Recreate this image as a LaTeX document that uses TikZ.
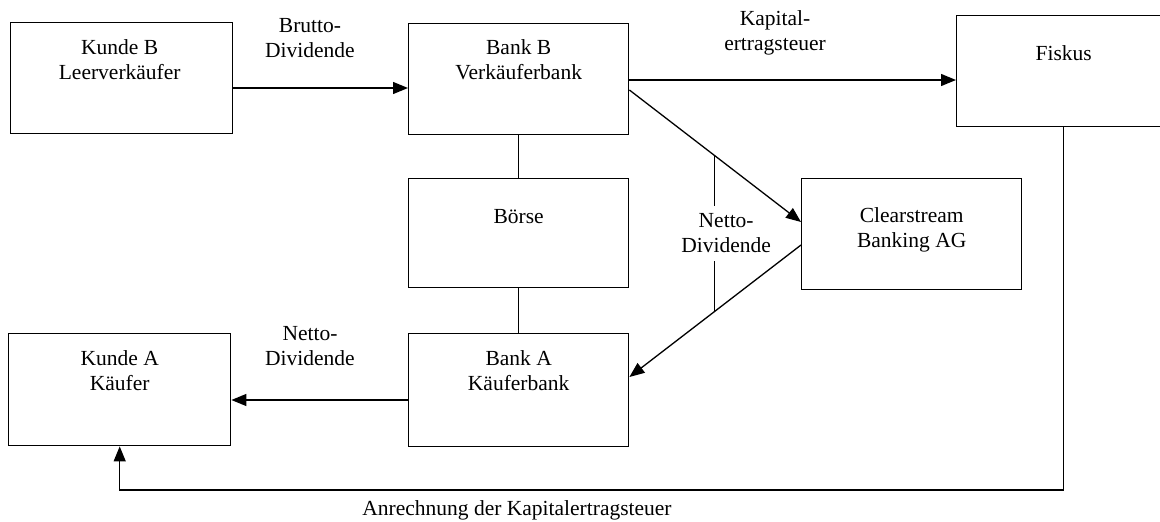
\documentclass[tikz,border=0pt]{standalone}
\usepackage{fontspec}
\setmainfont{Liberation Serif}
\usetikzlibrary{arrows.meta,calc}
\begin{document}
\begin{tikzpicture}[x=1pt,y=-1pt,
  box/.style={draw, line width=1.4pt, inner sep=0pt, anchor=north west},
  txt/.style={align=center, font=\fontsize{21.5}{25}\selectfont, inner sep=0pt},
  arr/.style={line width=1.3pt, -{Triangle[length=15pt,width=12pt]}},
  ln/.style={line width=1.3pt}]
\useasboundingbox (0,0) rectangle (1160,522);
\fill[white] (0,0) rectangle (1160,522);

% boxes
\node[box, minimum width=222pt, minimum height=111pt] (kb) at (10,22) {};
\node[box, minimum width=220pt, minimum height=111pt] (bb) at (408,23) {};
\node[box, minimum width=214pt, minimum height=111pt] (fk) at (956,15) {};
\node[box, minimum width=220pt, minimum height=109pt] (bo) at (408,178) {};
\node[box, minimum width=220pt, minimum height=111pt] (cs) at (801,178) {};
\node[box, minimum width=222pt, minimum height=112pt] (ka) at (8,333) {};
\node[box, minimum width=220pt, minimum height=113pt] (ba) at (408,333) {};

% box texts
\node[txt] (kbt) at ($(kb.north)+(-2,37.5)$) {Kunde B\\Leerverkäufer};
\node[txt] (bbt) at ($(bb.north)+(0,36.5)$) {Bank B\\Verkäuferbank};
\node[txt] (fkt) at ($(fk.north)+(0,38)$) {Fiskus};
\node[txt] (bot) at ($(bo.north)+(0,39)$) {Börse};
\node[txt] (cst) at ($(cs.north)+(0,51.5)$) {Clearstream\\Banking AG};
\node[txt] (kat) at ($(ka.north)+(0,37.5)$) {Kunde A\\Käufer};
\node[txt] (bat) at ($(ba.north)+(0,37.5)$) {Bank A\\Käuferbank};

% row coordinates
\coordinate (r0) at (0,80);
\coordinate (r1) at (0,88);
\coordinate (r2) at (0,400);
\coordinate (r3) at (0,490);

% connectors
\draw[arr] (kb.east |- r1) -- (bb.west |- r1);
\draw[arr] (bb.east |- r0) -- (fk.west |- r0);
\draw[ln] (bb.south) -- (bo.north);
\draw[ln] (bo.south) -- (ba.north);

\coordinate (d1s) at ($(bb.north east)+(0,67)$);
\coordinate (d1e) at ($(cs.north west)+(0,44)$);
\coordinate (d2s) at ($(cs.north west)+(0,67)$);
\coordinate (d2e) at ($(ba.north east)+(0,44)$);
\draw[arr] (d1s) -- coordinate[pos=0.494] (m1) (d1e);
\draw[arr] (d2s) -- coordinate[pos=0.506] (m2) (d2e);
\draw[ln] (m1) -- node[txt, fill=white, xshift=12pt, inner xsep=3pt, inner ysep=8pt] (nd) {Netto-\\Dividende} (m2 -| m1);

\draw[arr] (ba.west |- r2) -- (ka.east |- r2);
\draw[arr] (fk.south) -- (fk.south |- r3) -| (ka.south);

% edge labels
\node[txt] (bl) at (310,38) {Brutto-\\Dividende};
\node[txt] (kl) at (775,33) {Kapital-\\ertragsteuer};
\node[txt] (nl) at (310,346) {Netto-\\Dividende};
\node[txt] (al) at (517,510) {Anrechnung der Kapitalertragsteuer};
\end{tikzpicture}
\end{document}
